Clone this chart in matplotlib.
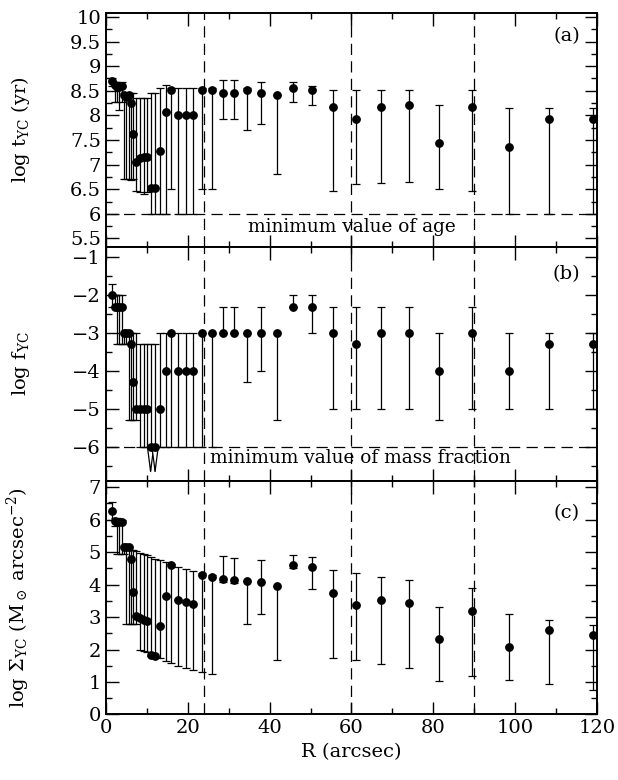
import numpy as np
import matplotlib
matplotlib.use("Agg")
import matplotlib.pyplot as plt
from matplotlib.ticker import MultipleLocator, FuncFormatter

plt.rcParams['font.family'] = ['DejaVu Serif']
plt.rcParams['mathtext.fontset'] = 'dejavuserif'

# radial bins (arcsec)
R = [1.5, 2.1, 2.7, 3.3, 3.9, 4.3, 5.0, 5.6, 6.1, 6.7, 7.4, 8.3, 9.2, 10.1,
     10.9, 12.0, 13.2, 14.6, 16.0, 17.6, 19.5, 21.3, 23.5, 25.9, 28.5, 31.3,
     34.4, 37.9, 41.9, 45.8, 50.4, 55.5, 61.1, 67.1, 74.0, 81.4, 89.4, 98.5,
     108.2, 119.1]

# (a) age of the young component, with upper / lower bounds
log_age = [8.69, 8.62, 8.58, 8.58, 8.60, 8.42, 8.38, 8.42, 8.25, 7.62, 7.06,
           7.13, 7.15, 7.15, 6.53, 6.53, 7.28, 8.07, 8.52, 8.00, 8.00, 8.00,
           8.52, 8.52, 8.46, 8.46, 8.52, 8.46, 8.41, 8.56, 8.52, 8.17, 7.92,
           8.17, 8.21, 7.43, 8.17, 7.35, 7.92, 7.92]
age_hi = [8.76, 8.68, 8.68, 8.66, 8.68, 8.46, 8.46, 8.46, 8.46, 8.46, 8.36,
          8.36, 8.36, 8.36, 8.46, 8.46, 8.55, 8.62, 8.56, 8.56, 8.56, 8.56,
          8.56, 8.56, 8.71, 8.71, 8.55, 8.67, 8.41, 8.67, 8.60, 8.52, 8.52,
          8.52, 8.52, 8.21, 8.52, 8.16, 8.16, 8.16]
age_lo = [8.60, 8.28, 8.28, 8.12, 8.28, 6.70, 6.70, 6.70, 6.68, 6.70, 6.47,
          6.45, 6.40, 6.45, 6.00, 6.00, 6.00, 6.00, 6.50, 6.00, 6.00, 6.00,
          6.50, 6.50, 7.92, 7.92, 7.71, 7.82, 6.80, 8.27, 8.21, 6.46, 6.60,
          6.63, 6.64, 6.50, 6.46, 6.00, 6.00, 6.00]

# (b) mass fraction of the young component
log_frac = [-2.0, -2.3, -2.3, -2.3, -2.3, -3.0, -3.0, -3.0, -3.3, -4.3, -5.0,
            -5.0, -5.0, -5.0, -6.0, -6.0, -5.0, -4.0, -3.0, -4.0, -4.0, -4.0,
            -3.0, -3.0, -3.0, -3.0, -3.0, -3.0, -3.0, -2.3, -2.3, -3.0, -3.3,
            -3.0, -3.0, -4.0, -3.0, -4.0, -3.3, -3.3]
frac_hi = [-1.7, -2.0, -2.0, -2.0, -2.0, -3.0, -3.0, -3.0, -3.0, -3.0, -3.0,
           -3.3, -3.3, -3.3, -3.3, -3.3, -3.0, -3.0, -3.0, -3.0, -3.0, -3.0,
           -3.0, -3.0, -2.3, -2.3, -3.0, -2.3, -3.0, -2.0, -2.0, -2.3, -2.3,
           -2.3, -2.3, -3.0, -2.3, -3.0, -3.0, -3.0]
frac_lo = [-2.3, -2.3, -3.3, -3.3, -3.3, -3.3, -3.3, -5.3, -5.3, -5.3, -5.3,
           -6.0, -6.0, -6.0, -6.0, -6.0, -6.0, -6.0, -6.0, -6.0, -6.0, -6.0,
           -6.0, -6.0, -3.0, -3.0, -4.3, -4.0, -5.3, -2.3, -3.0, -5.0, -5.0,
           -5.0, -5.0, -5.3, -5.0, -5.0, -5.0, -5.0]
upper_limit_R = [10.9, 12.0]

# (c) surface mass density of the young component
log_sd = [6.27, 5.95, 5.93, 5.93, 5.93, 5.17, 5.17, 5.15, 4.80, 3.77, 3.03,
          2.97, 2.92, 2.87, 1.84, 1.79, 2.72, 3.64, 4.59, 3.52, 3.46, 3.39,
          4.30, 4.24, 4.16, 4.13, 4.12, 4.09, 3.97, 4.61, 4.55, 3.75, 3.38,
          3.54, 3.44, 2.33, 3.20, 2.07, 2.61, 2.46]
sd_hi = [6.55, 6.05, 6.05, 6.00, 6.00, 5.19, 5.19, 5.15, 5.08, 5.05, 5.02,
         4.98, 4.94, 4.90, 4.86, 4.80, 4.75, 4.70, 4.62, 4.55, 4.48, 4.42,
         4.36, 4.30, 4.88, 4.81, 4.12, 4.77, 3.97, 4.92, 4.85, 4.46, 4.37,
         4.23, 4.15, 3.32, 3.90, 3.08, 2.92, 2.75]
sd_lo = [6.00, 5.80, 4.95, 4.95, 4.95, 4.93, 2.78, 2.78, 2.78, 2.78, 2.78,
         1.98, 1.95, 1.92, 1.80, 1.77, 1.74, 1.64, 1.60, 1.50, 1.43, 1.36,
         1.30, 1.25, 4.07, 4.04, 2.80, 3.08, 1.67, 4.52, 3.85, 1.73, 1.67,
         1.54, 1.42, 1.03, 1.19, 1.07, 0.93, 0.74]

region_bounds = [24, 60, 90]


def tick_fmt(v, pos):
    return ('%g' % v).replace('-', '\u2212')


fig, axes = plt.subplots(3, 1, sharex=True, figsize=(6.18, 7.8), dpi=100)
fig.subplots_adjust(left=0.1715, right=0.966, top=0.9833, bottom=0.084, hspace=0)

panels = [
    (log_age, age_lo, age_hi, r'log t$_{\rm YC}$ (yr)', (5.33, 10.08), 0.5, 0.25, '(a)'),
    (log_frac, frac_lo, frac_hi, r'log f$_{\rm YC}$', (-6.9, -0.72), 1, 0.5, '(b)'),
    (log_sd, sd_lo, sd_hi, r'log $\Sigma_{\rm YC}$ (M$_\odot$ arcsec$^{-2}$)', (0, 7.2), 1, 0.5, '(c)'),
]
label_y = [0.90, 0.885, 0.86]

for i, (ax, (val, lo, hi, ylab, ylim, major, minor, tag)) in enumerate(zip(axes, panels)):
    val = np.array(val)
    yerr = [val - np.array(lo), np.array(hi) - val]
    ax.errorbar(R, val, yerr=yerr, fmt='o', color='black', ms=5.3,
                elinewidth=0.9, capsize=3.2, capthick=0.9, zorder=3)
    for xb in region_bounds:
        ax.axvline(xb, color='black', lw=0.9, ls=(0, (9, 5)), zorder=1)
    ax.set_ylim(*ylim)
    ax.set_xlim(0, 120)
    ax.yaxis.set_major_locator(MultipleLocator(major))
    ax.yaxis.set_minor_locator(MultipleLocator(minor))
    ax.yaxis.set_major_formatter(FuncFormatter(tick_fmt))
    ax.xaxis.set_major_locator(MultipleLocator(20))
    ax.xaxis.set_minor_locator(MultipleLocator(10))
    ax.tick_params(which='both', direction='in', top=True, right=True,
                   labelsize=14, width=1.0)
    ax.tick_params(which='major', length=9)
    ax.tick_params(which='minor', length=4.5)
    for sp in ax.spines.values():
        sp.set_linewidth(1.4)
    ax.set_ylabel(ylab, fontsize=14)
    ax.yaxis.set_label_coords(-0.15, 0.5)
    ax.text(0.965, label_y[i], tag, transform=ax.transAxes, ha='right',
            va='center', fontsize=14)

# detection limits
axes[0].axhline(6, color='black', lw=0.9, ls=(0, (9, 5)), zorder=1)
axes[0].text(60, 5.74, 'minimum value of age', ha='center', va='center', fontsize=13.3)
axes[1].axhline(-6, color='black', lw=0.9, ls=(0, (9, 5)), zorder=1)
axes[1].text(25.4, -6.3, 'minimum value of mass fraction', ha='left', va='center', fontsize=13.3)
for xr in upper_limit_R:
    axes[1].annotate('', xy=(xr, -6.78), xytext=(xr, -6.0),
                     arrowprops=dict(arrowstyle='-|>,head_length=1.7,head_width=0.22',
                                     fc='white', ec='black', lw=0.9,
                                     shrinkA=0, shrinkB=0))

axes[2].set_xlabel('R (arcsec)', fontsize=14)
axes[0].tick_params(labelbottom=False)
axes[1].tick_params(labelbottom=False)

fig.savefig('out.png', dpi=100)
